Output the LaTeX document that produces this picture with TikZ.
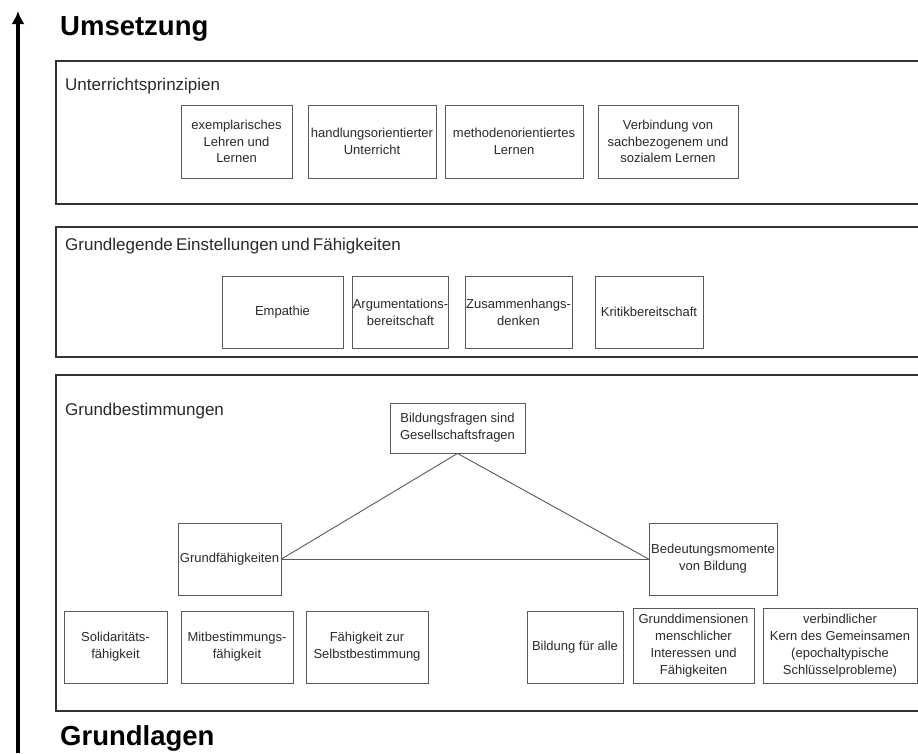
\documentclass[tikz,border=0pt]{standalone}
\usepackage{fontspec}
\setmainfont{Liberation Sans}
\usetikzlibrary{arrows.meta}
\definecolor{txt}{HTML}{2A2A2A}
\definecolor{boxline}{HTML}{5A5A5A}
\definecolor{panelline}{HTML}{333333}
\tikzset{
  bx/.style={draw=boxline, line width=0.9pt, inner sep=0pt, align=center, text=txt,
    font=\fontsize{13}{16.8}\selectfont},
  panel/.style={draw=panelline, line width=1.4pt},
  plabel/.style={anchor=base west, inner sep=0pt, text=txt, font=\fontsize{17}{20}\selectfont},
  title/.style={anchor=base west, inner sep=0pt, text=black, font=\fontsize{27.5}{30}\selectfont\bfseries},
  conn/.style={draw=boxline, line width=0.9pt},
  uparrow/.style={draw=black, line width=3.6pt, -{Latex[length=13pt,width=13pt]}}
}
\newcommand\mybox[6]{\node[bx, minimum width={#4-#2}, minimum height={#5-#3}] (#1) at ({(#2+#4)/2},{(#3+#5)/2}) {#6};}
\begin{document}
\begin{tikzpicture}[x=1pt,y=-1pt]
\useasboundingbox[fill=white] (0,0) rectangle (918,753);
% axis arrow
\coordinate (axbot) at (18,753);
\coordinate (axtop) at (18,11);
\draw[uparrow] (axbot) -- (axtop);
% titles
\node[title] (umsetzung) at (60,35) {Umsetzung};
\node[title] (grundlagen) at (60,745) {Grundlagen};
% panels
\draw[panel] (920,61) -- (56,61) -- (56,204) -- (920,204);
\draw[panel] (920,227) -- (56,227) -- (56,357) -- (920,357);
\draw[panel] (920,375) -- (56,375) -- (56,711) -- (920,711);
\node[plabel] (l1) at (65,90) {Unterrichtsprinzipien};
\node[plabel] (l2) at (65,250) {Grundlegende\hspace{3.2pt}Einstellungen\hspace{3.2pt}und\hspace{3.2pt}Fähigkeiten};
\node[plabel] (l3) at (65,415) {Grundbestimmungen};
% panel 1
\mybox{b11}{181}{105}{292}{178}{exemplarisches\\Lehren und\\Lernen}
\mybox{b12}{308}{105}{436}{178}{handlungsorientierter\\Unterricht}
\mybox{b13}{445}{105}{583}{178}{methodenorientiertes\\Lernen}
\mybox{b14}{598}{105}{738}{178}{Verbindung von\\sachbezogenem und\\sozialem Lernen}
% panel 2
\mybox{b21}{222}{276}{343}{348}{Empathie}
\mybox{b22}{354}{276}{447}{348}{Argumentations-\\bereitschaft}
\mybox{b23}{465}{276}{572}{348}{Zusammenhangs-\\denken}
\mybox{b24}{595}{276}{703}{348}{Kritikbereitschaft}
% panel 3
\mybox{top}{390}{403}{525}{453}{Bildungsfragen sind\\Gesellschaftsfragen}
\mybox{gf}{178}{523}{281}{595}{Grundfähigkeiten}
\mybox{bm}{649}{523}{777}{595}{Bedeutungsmomente\\von Bildung}
\draw[conn] (top.south) -- (gf.east);
\draw[conn] (gf.east) -- (bm.west);
\draw[conn] (bm.west) -- (top.south);
\mybox{s1}{64}{611}{167}{683}{Solidaritäts-\\fähigkeit}
\mybox{s2}{181}{611}{293}{683}{Mitbestimmungs-\\fähigkeit}
\mybox{s3}{306}{611}{428}{683}{Fähigkeit zur\\Selbstbestimmung}
\mybox{s4}{527}{611}{623}{683}{Bildung für alle}
\mybox{s5}{633}{608}{754}{683}{Grunddimensionen\\menschlicher\\Interessen und\\Fähigkeiten}
\mybox{s6}{763}{608}{917}{683}{verbindlicher\\Kern des Gemeinsamen\\(epochaltypische\\Schlüsselprobleme)}
\end{tikzpicture}
\end{document}
